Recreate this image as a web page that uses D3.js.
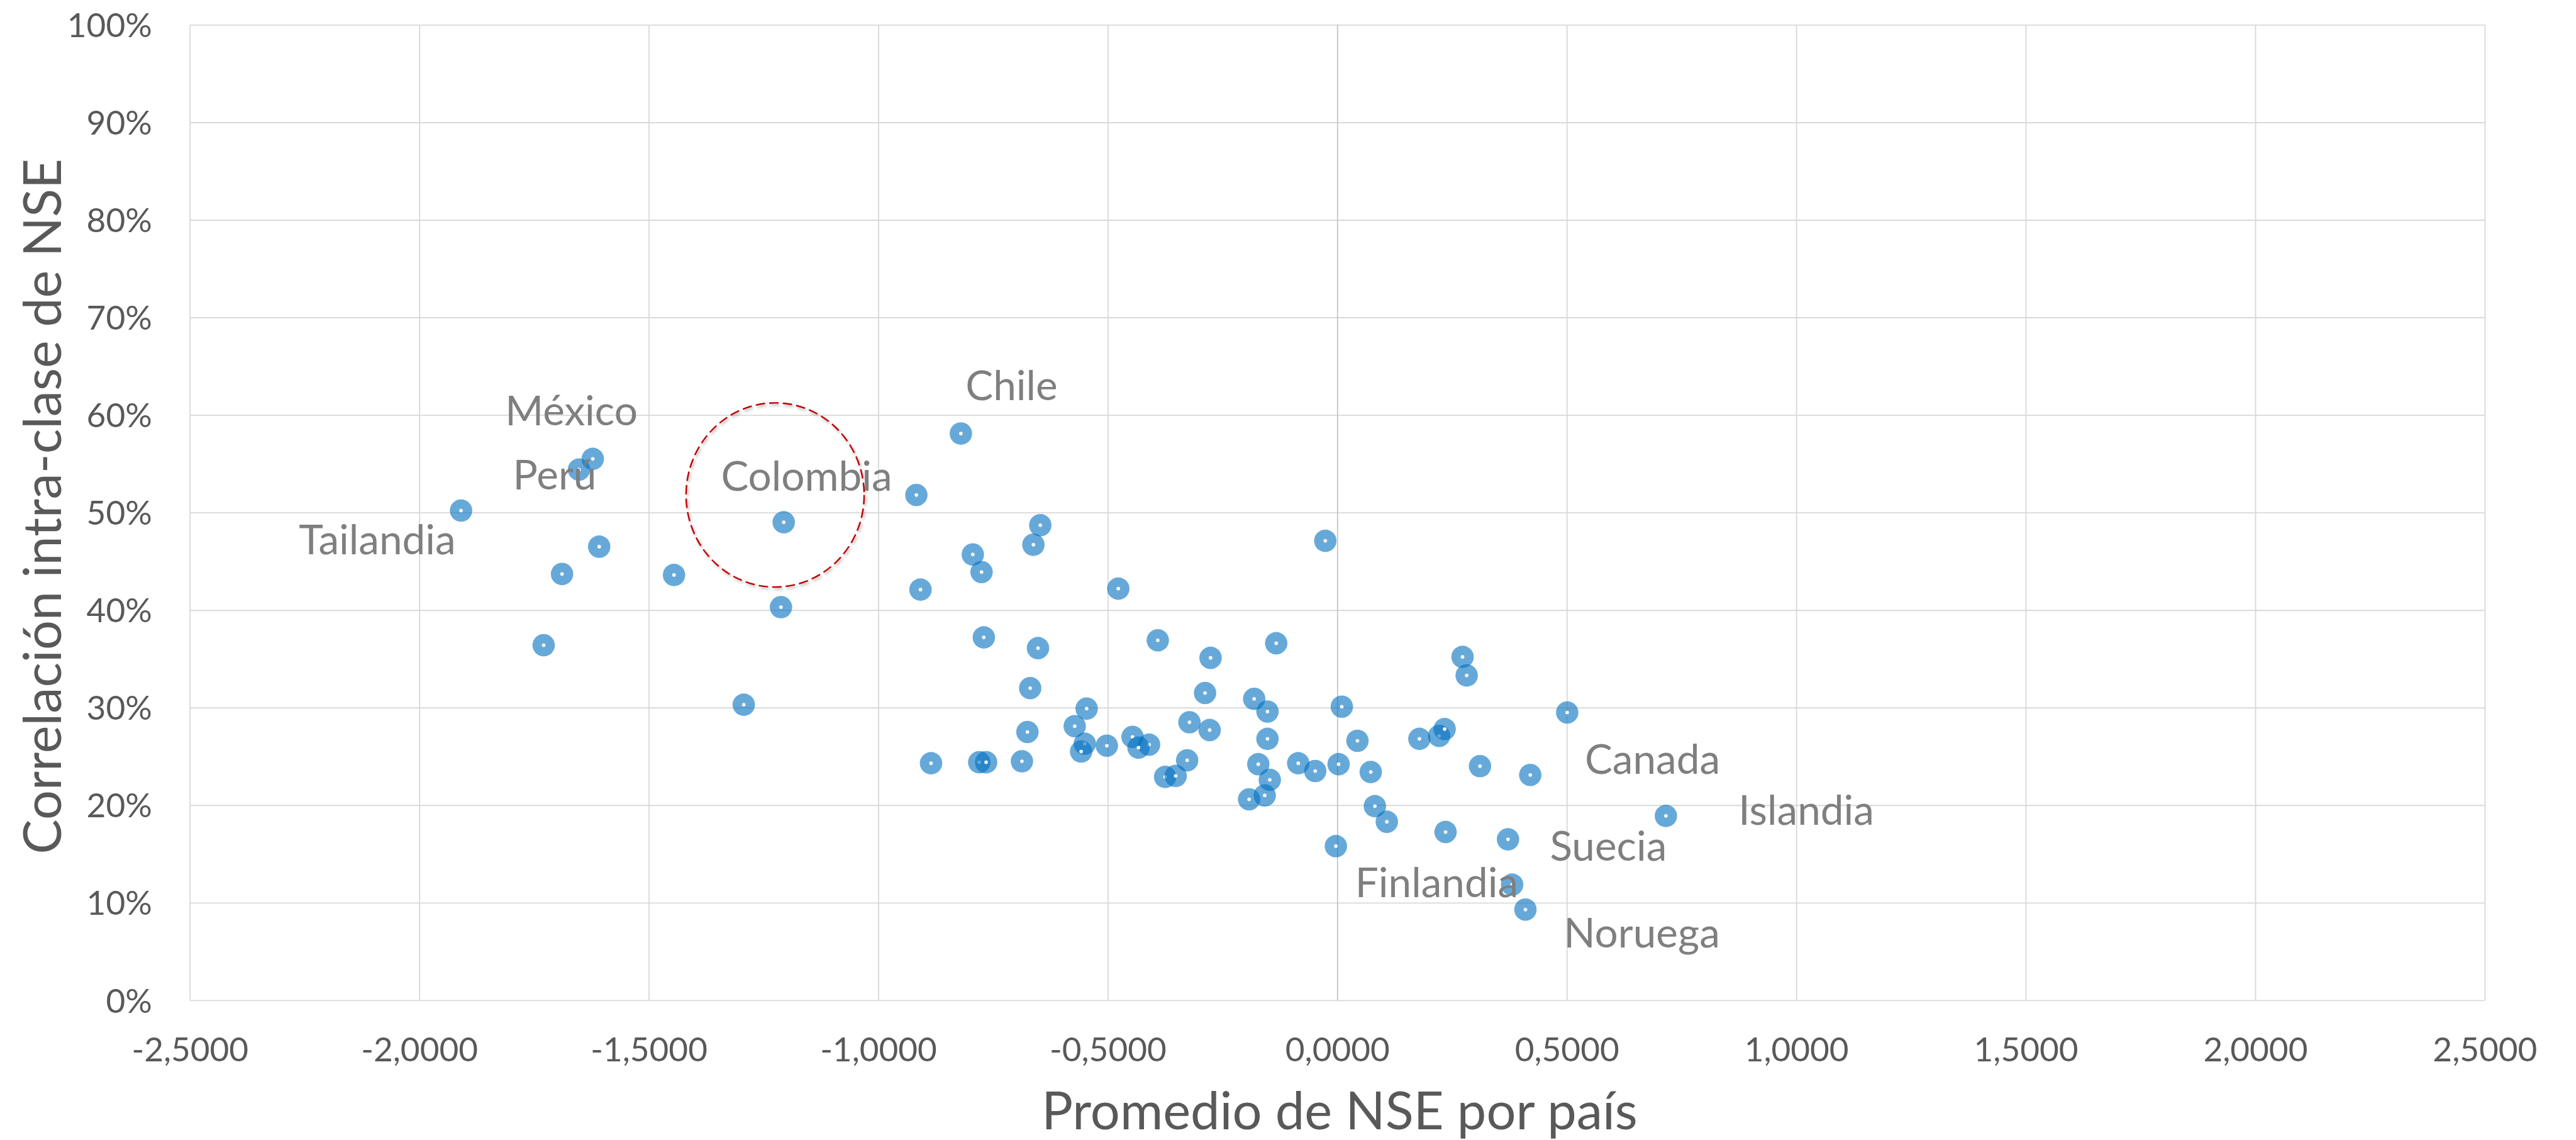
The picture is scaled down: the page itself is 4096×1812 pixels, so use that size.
<!DOCTYPE html>
<html>
<head>
<meta charset="utf-8">
<script src="https://cdn.jsdelivr.net/npm/d3@7"></script>
<style>
  html, body { margin: 0; padding: 0; background: #ffffff; overflow: hidden; }
  svg { display: block; }
</style>
</head>
<body>
<svg id="chart"></svg>
<script>
// Promedio del índice socioeconómico (NSE) por país
const nse = [
  -1.909, -1.622, -1.652, -1.608, -1.689, -1.445, -1.206, -1.212, -1.729, -1.293,
  -0.917, -0.820, -0.647, -0.662, -0.794, -0.775, -0.908, -0.477, -0.026, -0.770,
  -0.652, -0.391, -0.276, -0.133, -0.669, -0.546, -0.288, -0.181, -0.152, 0.010,
  -0.572, -0.675, -0.322, -0.278, -0.550, -0.558, -0.502, -0.446, -0.410, -0.433,
  -0.152, 0.044, -0.885, -0.780, -0.765, -0.687, -0.327, -0.375, -0.352, -0.172,
  -0.147, -0.192, -0.158, -0.085, -0.048, 0.003, 0.073, 0.082, -0.003, 0.273,
  0.282, 0.501, 0.179, 0.222, 0.234, 0.311, 0.4205, 0.108, 0.236, 0.372,
  0.716, 0.381, 0.410
];

// Correlación intra-clase del NSE (%) para cada país, mismo orden
const icc = [
  50.2, 55.5, 54.4, 46.5, 43.7, 43.6, 49.0, 40.3, 36.4, 30.3,
  51.8, 58.1, 48.7, 46.7, 45.7, 43.9, 42.1, 42.2, 47.1, 37.2,
  36.1, 36.9, 35.1, 36.6, 32.0, 29.9, 31.5, 30.9, 29.6, 30.1,
  28.1, 27.5, 28.5, 27.7, 26.3, 25.5, 26.1, 27.0, 26.2, 25.9,
  26.8, 26.6, 24.3, 24.4, 24.4, 24.5, 24.6, 22.9, 23.0, 24.2,
  22.6, 20.6, 21.0, 24.3, 23.5, 24.2, 23.4, 19.9, 15.8, 35.2,
  33.3, 29.5, 26.8, 27.1, 27.8, 24.0, 23.1, 18.3, 17.25, 16.5,
  18.9, 11.85, 9.3
];

// Países rotulados y el punto al que corresponde cada rótulo
const labelNames = ["México", "Perú", "Colombia", "Tailandia", "Chile",
                    "Canada", "Islandia", "Suecia", "Finlandia", "Noruega"];
const labelPoint = [1, 2, 6, 0, 11, 66, 70, 69, 71, 72];

// Marcas de los ejes
const xTicks = [-2.5, -2, -1.5, -1, -0.5, 0, 0.5, 1, 1.5, 2, 2.5];
const yTicks = [0, 10, 20, 30, 40, 50, 60, 70, 80, 90, 100];

// Zona resaltada alrededor de Colombia: centro y radios en unidades de los ejes
const highlightCenter = [-1.2247, 51.8];
const highlightRadius = [0.194, 9.44];

// ---- layout ----
const W = 4096, H = 1812, S = 0.938;
const plot = { left: 321.7 * S, right: 4212 * S, top: 42 * S, bottom: 1695 * S };

// label offsets from the marker centre, in unscaled px (baseline/left of text)
const labelOffsets = [
  [-148.5, -56.5], [-112, 34], [-106.3, -53], [-275, 74], [8, -57],
  [92.5, -2], [123, 15], [71, 36], [-266, 21.5], [65, 64]
];

const FONT = "Lato, 'Noto Sans', 'Open Sans', sans-serif";
const axisTextColor = "#595959";
const labelColor = "#7f7f7f";
const gridColor = "#d9d9d9";
const markerColor = "#0070c0";

const svg = d3.select("#chart").attr("width", W).attr("height", H)
  .attr("viewBox", `0 0 ${W} ${H}`);

svg.append("rect").attr("width", W).attr("height", H).attr("fill", "#ffffff");

const x = d3.scaleLinear().domain([-2.5, 2.5]).range([plot.left, plot.right]);
const y = d3.scaleLinear().domain([0, 100]).range([plot.bottom, plot.top]);

const defs = svg.append("defs");
const shadow = defs.append("filter").attr("id", "soft-shadow")
  .attr("x", "-20%").attr("y", "-20%").attr("width", "140%").attr("height", "140%");
shadow.append("feDropShadow")
  .attr("dx", 2 * S).attr("dy", 3 * S).attr("stdDeviation", 2.5 * S)
  .attr("flood-color", "#000000").attr("flood-opacity", 0.35);

// ---- gridlines ----
const gridW = 2 * S;
const plotW = plot.right - plot.left, plotH = plot.bottom - plot.top;

const yGrid = svg.append("g")
  .attr("transform", `translate(${plot.left},0)`)
  .call(d3.axisLeft(y).tickValues(yTicks).tickSize(-plotW).tickFormat(""));
yGrid.select(".domain").remove();
yGrid.selectAll(".tick line").attr("stroke", gridColor).attr("stroke-width", gridW);

const xGrid = svg.append("g")
  .attr("transform", `translate(0,${plot.bottom})`)
  .call(d3.axisBottom(x).tickValues(xTicks).tickSize(-plotH).tickFormat(""));
xGrid.select(".domain").remove();
xGrid.selectAll(".tick line")
  .attr("stroke", d => d === 0 ? "#c6c6c6" : gridColor)
  .attr("stroke-width", gridW);

// ---- tick labels ----
const fmtX = v => d3.format(".4f")(v).replace(".", ",").replace("−", "-");
const xAxis = svg.append("g")
  .attr("transform", `translate(0,${plot.bottom})`)
  .call(d3.axisBottom(x).tickValues(xTicks).tickSize(0).tickPadding(0).tickFormat(fmtX));
xAxis.select(".domain").remove();
xAxis.selectAll("text")
  .attr("y", 104 * S).attr("dy", null)
  .attr("font-family", FONT).attr("font-size", 56.6 * S)
  .attr("fill", axisTextColor);

const yAxis = svg.append("g")
  .attr("transform", `translate(${plot.left},0)`)
  .call(d3.axisLeft(y).tickValues(yTicks).tickSize(0).tickPadding(64 * S)
    .tickFormat(d => d + "%"));
yAxis.select(".domain").remove();
yAxis.selectAll("text")
  .attr("dy", "0.36em")
  .attr("font-family", FONT).attr("font-size", 56.6 * S)
  .attr("fill", axisTextColor);

// ---- axis titles ----
const titleSize = 88.5 * S;
svg.append("text")
  .attr("x", (plot.left + plot.right) / 2 + 4 * S)
  .attr("y", 1914 * S)
  .attr("text-anchor", "middle")
  .attr("font-family", FONT).attr("font-size", titleSize)
  .attr("fill", axisTextColor)
  .text("Promedio de NSE por país");

svg.append("text")
  .attr("transform", `translate(${103 * S},${858 * S}) rotate(-90)`)
  .attr("text-anchor", "middle")
  .attr("font-family", FONT).attr("font-size", titleSize)
  .attr("fill", axisTextColor)
  .text("Correlación intra-clase de NSE");

// ---- points ----
const pts = nse.map((v, i) => ({ x: v, y: icc[i] }));
const rOuter = 19 * S, rInner = 3 * S;

const marks = svg.append("g").selectAll("g.pt")
  .data(pts).join("g").attr("class", "pt")
  .attr("transform", d => `translate(${x(d.x)},${y(d.y)})`);
marks.append("circle").attr("r", rOuter)
  .attr("fill", markerColor).attr("fill-opacity", 0.6);
marks.append("circle").attr("r", rInner).attr("fill", "#ffffff");

// ---- highlight around Colombia ----
svg.append("ellipse")
  .attr("cx", x(highlightCenter[0]))
  .attr("cy", y(highlightCenter[1]))
  .attr("rx", x(highlightCenter[0] + highlightRadius[0]) - x(highlightCenter[0]))
  .attr("ry", y(highlightCenter[1]) - y(highlightCenter[1] + highlightRadius[1]))
  .attr("fill", "none")
  .attr("stroke", "#c00000")
  .attr("stroke-width", 2.6 * S)
  .attr("stroke-dasharray", `${16 * S},${7 * S}`)
  .attr("filter", "url(#soft-shadow)");

// ---- country labels ----
svg.append("g").selectAll("text")
  .data(labelNames).join("text")
  .attr("x", (d, i) => x(nse[labelPoint[i]]) + labelOffsets[i][0] * S)
  .attr("y", (d, i) => y(icc[labelPoint[i]]) + labelOffsets[i][1] * S)
  .attr("font-family", FONT).attr("font-size", 70 * S)
  .attr("fill", labelColor)
  .text(d => d);
</script>
</body>
</html>
